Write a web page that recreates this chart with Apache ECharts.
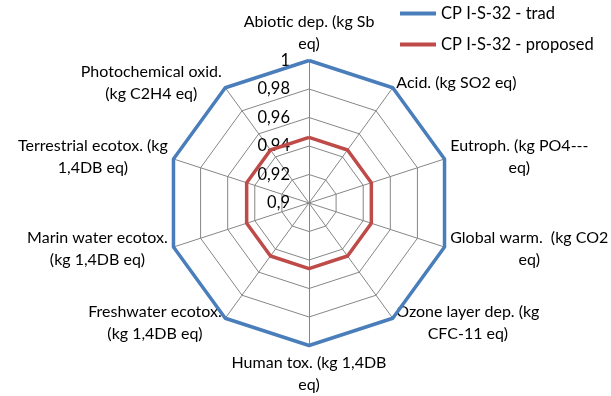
<!DOCTYPE html>
<html>
<head>
<meta charset="utf-8">
<script src="https://cdn.jsdelivr.net/npm/echarts@6/dist/echarts.min.js"></script>
<style>
  html, body { margin: 0; padding: 0; background: #fff; }
  #chart { width: 611px; height: 396px; }
</style>
</head>
<body>
<div id="chart"></div>
<script>
// Impact categories, listed clockwise from the top spoke
const categories = [
  'Abiotic dep. (kg Sb\neq)',
  'Acid. (kg SO2 eq)',
  'Eutroph. (kg PO4---\neq)',
  'Global warm.  (kg CO2\neq)',
  'Ozone layer dep. (kg\nCFC-11 eq)',
  'Human tox. (kg 1,4DB\neq)',
  'Freshwater ecotox.\n(kg 1,4DB eq)',
  'Marin water ecotox.\n(kg 1,4DB eq)',
  'Terrestrial ecotox. (kg\n1,4DB eq)',
  'Photochemical oxid.\n(kg C2H4 eq)'
];

// Normalised impact scores per category
const tradValues = [1, 1, 1, 1, 1, 1, 1, 1, 1, 1];
const proposedValues = [0.946, 0.946, 0.946, 0.946, 0.946, 0.946, 0.946, 0.946, 0.946, 0.946];

const seriesNames = ['CP I-S-32 - trad', 'CP I-S-32 - proposed'];

// Scale of the radial axis
const axisMin = 0.9;
const axisMax = 1;
const axisStep = 0.02;

const FONT = 'Lato';
const center = [309, 203];
const radius = 142.5;

// ECharts lays radar spokes out counter-clockwise; reorder so the list reads clockwise
function ccw(arr) {
  return [arr[0]].concat(arr.slice(1).reverse());
}

const chart = echarts.init(document.getElementById('chart'));
chart.setOption({
  animation: false,
  color: ['#4A7EBB', '#BE4B48'],
  legend: {
    orient: 'vertical',
    left: 395,
    top: 0,
    icon: 'rect',
    itemWidth: 36,
    itemHeight: 4,
    itemGap: 14,
    textStyle: { fontFamily: FONT, fontSize: 16.5, color: '#000', lineHeight: 17 },
    data: seriesNames
  },
  radar: {
    center: center,
    radius: radius,
    startAngle: 90,
    splitNumber: 5,
    shape: 'polygon',
    indicator: ccw(categories).map(name => ({ name: name, min: axisMin, max: axisMax })),
    axisName: {
      color: '#000',
      fontFamily: FONT,
      fontSize: 16,
      lineHeight: 22,
      // each line is centred inside the label block
      formatter: name => name.split('\n').map(line => '{c|' + line + '}').join('\n'),
      rich: {
        c: { align: 'center', color: '#000', fontFamily: FONT, fontSize: 16, lineHeight: 22 }
      }
    },
    nameGap: 6,
    axisLine: { lineStyle: { color: '#868686', width: 1 } },
    splitLine: { lineStyle: { color: '#868686', width: 1 } },
    splitArea: { show: false }
  },
  polar: { center: center, radius: radius },
  angleAxis: { show: false, startAngle: 90, min: 0, max: 360 },
  radiusAxis: {
    min: axisMin,
    max: axisMax,
    interval: axisStep,
    axisLine: { show: false },
    axisTick: { show: false },
    splitLine: { show: false },
    axisLabel: {
      fontFamily: FONT,
      fontSize: 16.5,
      color: '#000',
      margin: 19,
      formatter: v => String(+v.toFixed(2)).replace('.', ',')
    }
  },
  series: [{
    type: 'radar',
    symbol: 'none',
    lineStyle: { width: 3.5 },
    data: [
      { name: seriesNames[0], value: ccw(tradValues), lineStyle: { color: '#4A7EBB', width: 3.5 } },
      { name: seriesNames[1], value: ccw(proposedValues), lineStyle: { color: '#BE4B48', width: 3.5 } }
    ]
  }]
});
</script>
</body>
</html>
